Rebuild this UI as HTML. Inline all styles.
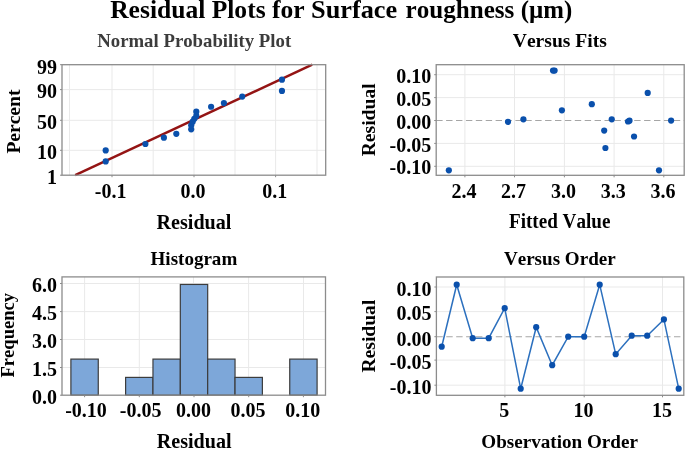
<!DOCTYPE html>
<html lang="en"><head><meta charset="utf-8"><title>Residual Plots for Surface roughness</title>
<style>html,body{margin:0;padding:0;background:#fff;overflow:hidden}svg{display:block}</style></head>
<body>
<svg width="685" height="449" viewBox="0 0 685 449" font-family='"Liberation Serif", serif' font-weight="bold" style="font-kerning:none">
<rect width="685" height="449" fill="#fff"/>
<text y="17.8" font-size="25.55" fill="#000"><tspan x="110.17">Residual Plots for </tspan><tspan x="311" textLength="86.2" lengthAdjust="spacingAndGlyphs">Surface</tspan><tspan> </tspan><tspan x="405.6" textLength="108.7" lengthAdjust="spacingAndGlyphs">roughness</tspan><tspan> </tspan><tspan x="520.7" textLength="51.5" lengthAdjust="spacingAndGlyphs">(µm)</tspan></text>
<rect x="62.0" y="64.7" width="263.7" height="110.49999999999999" fill="#fff" stroke="none"/>
<line x1="69.5" y1="64.7" x2="69.5" y2="175.2" stroke="#e9e9e9" stroke-width="1"/>
<line x1="112" y1="64.7" x2="112" y2="175.2" stroke="#e9e9e9" stroke-width="1"/>
<line x1="153.2" y1="64.7" x2="153.2" y2="175.2" stroke="#e9e9e9" stroke-width="1"/>
<line x1="194" y1="64.7" x2="194" y2="175.2" stroke="#e9e9e9" stroke-width="1"/>
<line x1="235" y1="64.7" x2="235" y2="175.2" stroke="#e9e9e9" stroke-width="1"/>
<line x1="275.6" y1="64.7" x2="275.6" y2="175.2" stroke="#e9e9e9" stroke-width="1"/>
<line x1="317" y1="64.7" x2="317" y2="175.2" stroke="#e9e9e9" stroke-width="1"/>
<line x1="62.0" y1="89.6" x2="325.7" y2="89.6" stroke="#e9e9e9" stroke-width="1"/>
<line x1="62.0" y1="120.3" x2="325.7" y2="120.3" stroke="#e9e9e9" stroke-width="1"/>
<line x1="62.0" y1="150.3" x2="325.7" y2="150.3" stroke="#e9e9e9" stroke-width="1"/>
<line x1="75.2" y1="175.2" x2="312.2" y2="64.7" stroke="#941414" stroke-width="2.45"/>
<circle cx="105.7" cy="161.4" r="3.1" fill="#0a50ac"/>
<circle cx="105.7" cy="150.4" r="3.1" fill="#0a50ac"/>
<circle cx="145.4" cy="144.0" r="3.1" fill="#0a50ac"/>
<circle cx="163.9" cy="137.7" r="3.1" fill="#0a50ac"/>
<circle cx="176.3" cy="133.8" r="3.1" fill="#0a50ac"/>
<circle cx="191.2" cy="129.3" r="3.1" fill="#0a50ac"/>
<circle cx="191.2" cy="125.3" r="3.1" fill="#0a50ac"/>
<circle cx="192.7" cy="121.7" r="3.1" fill="#0a50ac"/>
<circle cx="194.3" cy="118.8" r="3.1" fill="#0a50ac"/>
<circle cx="196.3" cy="115.9" r="3.1" fill="#0a50ac"/>
<circle cx="196.3" cy="111.7" r="3.1" fill="#0a50ac"/>
<circle cx="211.1" cy="106.75" r="3.1" fill="#0a50ac"/>
<circle cx="223.9" cy="103.1" r="3.1" fill="#0a50ac"/>
<circle cx="242.25" cy="96.6" r="3.1" fill="#0a50ac"/>
<circle cx="281.95" cy="90.9" r="3.1" fill="#0a50ac"/>
<circle cx="281.95" cy="79.7" r="3.1" fill="#0a50ac"/>
<rect x="62.0" y="64.7" width="263.7" height="110.49999999999999" fill="none" stroke="#8c8c8c" stroke-width="1.3"/>
<line x1="60.0" y1="64.7" x2="62.0" y2="64.7" stroke="#8c8c8c" stroke-width="1"/>
<text x="57.0" y="73.5" font-size="20" text-anchor="end" fill="#000">99</text>
<line x1="60.0" y1="89.6" x2="62.0" y2="89.6" stroke="#8c8c8c" stroke-width="1"/>
<text x="57.0" y="98.39999999999999" font-size="20" text-anchor="end" fill="#000">90</text>
<line x1="60.0" y1="120.3" x2="62.0" y2="120.3" stroke="#8c8c8c" stroke-width="1"/>
<text x="57.0" y="129.1" font-size="20" text-anchor="end" fill="#000">50</text>
<line x1="60.0" y1="150.3" x2="62.0" y2="150.3" stroke="#8c8c8c" stroke-width="1"/>
<text x="57.0" y="159.10000000000002" font-size="20" text-anchor="end" fill="#000">10</text>
<line x1="60.0" y1="175.2" x2="62.0" y2="175.2" stroke="#8c8c8c" stroke-width="1"/>
<text x="57.0" y="184.0" font-size="20" text-anchor="end" fill="#000">1</text>
<line x1="112" y1="175.2" x2="112" y2="177.2" stroke="#8c8c8c" stroke-width="1"/>
<text x="110.7" y="197.89999999999998" font-size="20" text-anchor="middle" fill="#000">-0.1</text>
<line x1="194" y1="175.2" x2="194" y2="177.2" stroke="#8c8c8c" stroke-width="1"/>
<text x="193.1" y="197.89999999999998" font-size="20" text-anchor="middle" fill="#000">0.0</text>
<line x1="275.6" y1="175.2" x2="275.6" y2="177.2" stroke="#8c8c8c" stroke-width="1"/>
<text x="274.70000000000005" y="197.89999999999998" font-size="20" text-anchor="middle" fill="#000">0.1</text>
<text x="194.2" y="47" font-size="19" text-anchor="middle" fill="#3c3c3c" textLength="194" lengthAdjust="spacingAndGlyphs">Normal Probability Plot</text>
<text x="194" y="228.7" font-size="20.1" text-anchor="middle" fill="#000">Residual</text>
<text x="20.3" y="121.6" font-size="19.7" text-anchor="middle" fill="#000" transform="rotate(-90 20.3 121.6)" textLength="64" lengthAdjust="spacingAndGlyphs">Percent</text>
<rect x="436.2" y="64.7" width="248.00000000000006" height="110.60000000000001" fill="#fff" stroke="none"/>
<line x1="464.9" y1="64.7" x2="464.9" y2="175.3" stroke="#e9e9e9" stroke-width="1"/>
<line x1="514.5" y1="64.7" x2="514.5" y2="175.3" stroke="#e9e9e9" stroke-width="1"/>
<line x1="564.4" y1="64.7" x2="564.4" y2="175.3" stroke="#e9e9e9" stroke-width="1"/>
<line x1="614.1" y1="64.7" x2="614.1" y2="175.3" stroke="#e9e9e9" stroke-width="1"/>
<line x1="663.8" y1="64.7" x2="663.8" y2="175.3" stroke="#e9e9e9" stroke-width="1"/>
<line x1="436.2" y1="74.69999999999999" x2="684.2" y2="74.69999999999999" stroke="#e9e9e9" stroke-width="1"/>
<line x1="436.2" y1="97.6" x2="684.2" y2="97.6" stroke="#e9e9e9" stroke-width="1"/>
<line x1="436.2" y1="143.4" x2="684.2" y2="143.4" stroke="#e9e9e9" stroke-width="1"/>
<line x1="436.2" y1="166.3" x2="684.2" y2="166.3" stroke="#e9e9e9" stroke-width="1"/>
<line x1="436.2" y1="120.5" x2="684.2" y2="120.5" stroke="#a6a6a6" stroke-width="1.1" stroke-dasharray="6.4 3.5"/>
<circle cx="448.85" cy="170.3" r="3.1" fill="#0a50ac"/>
<circle cx="508.0" cy="121.8" r="3.1" fill="#0a50ac"/>
<circle cx="523.4" cy="119.3" r="3.1" fill="#0a50ac"/>
<circle cx="553.0" cy="70.6" r="3.1" fill="#0a50ac"/>
<circle cx="554.6" cy="70.6" r="3.1" fill="#0a50ac"/>
<circle cx="561.9" cy="110.3" r="3.1" fill="#0a50ac"/>
<circle cx="591.8" cy="104.2" r="3.1" fill="#0a50ac"/>
<circle cx="604.2" cy="130.6" r="3.1" fill="#0a50ac"/>
<circle cx="605.4" cy="148.0" r="3.1" fill="#0a50ac"/>
<circle cx="611.75" cy="119.3" r="3.1" fill="#0a50ac"/>
<circle cx="628.0" cy="121.5" r="3.1" fill="#0a50ac"/>
<circle cx="629.5" cy="120.7" r="3.1" fill="#0a50ac"/>
<circle cx="634.05" cy="136.5" r="3.1" fill="#0a50ac"/>
<circle cx="647.7" cy="92.9" r="3.1" fill="#0a50ac"/>
<circle cx="659.0" cy="170.3" r="3.1" fill="#0a50ac"/>
<circle cx="671.1" cy="120.6" r="3.1" fill="#0a50ac"/>
<rect x="436.2" y="64.7" width="248.00000000000006" height="110.60000000000001" fill="none" stroke="#8c8c8c" stroke-width="1.3"/>
<line x1="434.2" y1="74.69999999999999" x2="436.2" y2="74.69999999999999" stroke="#8c8c8c" stroke-width="1"/>
<text x="431.2" y="82.79999999999998" font-size="20" text-anchor="end" fill="#000">0.10</text>
<line x1="434.2" y1="97.6" x2="436.2" y2="97.6" stroke="#8c8c8c" stroke-width="1"/>
<text x="431.2" y="105.69999999999999" font-size="20" text-anchor="end" fill="#000">0.05</text>
<line x1="434.2" y1="120.5" x2="436.2" y2="120.5" stroke="#8c8c8c" stroke-width="1"/>
<text x="431.2" y="128.6" font-size="20" text-anchor="end" fill="#000">0.00</text>
<line x1="434.2" y1="143.4" x2="436.2" y2="143.4" stroke="#8c8c8c" stroke-width="1"/>
<text x="431.2" y="151.5" font-size="20" text-anchor="end" fill="#000">-0.05</text>
<line x1="434.2" y1="166.3" x2="436.2" y2="166.3" stroke="#8c8c8c" stroke-width="1"/>
<text x="431.2" y="174.4" font-size="20" text-anchor="end" fill="#000">-0.10</text>
<line x1="464.9" y1="175.3" x2="464.9" y2="177.3" stroke="#8c8c8c" stroke-width="1"/>
<text x="464.0" y="198.0" font-size="20" text-anchor="middle" fill="#000">2.4</text>
<line x1="514.5" y1="175.3" x2="514.5" y2="177.3" stroke="#8c8c8c" stroke-width="1"/>
<text x="513.6" y="198.0" font-size="20" text-anchor="middle" fill="#000">2.7</text>
<line x1="564.4" y1="175.3" x2="564.4" y2="177.3" stroke="#8c8c8c" stroke-width="1"/>
<text x="563.5" y="198.0" font-size="20" text-anchor="middle" fill="#000">3.0</text>
<line x1="614.1" y1="175.3" x2="614.1" y2="177.3" stroke="#8c8c8c" stroke-width="1"/>
<text x="613.2" y="198.0" font-size="20" text-anchor="middle" fill="#000">3.3</text>
<line x1="663.8" y1="175.3" x2="663.8" y2="177.3" stroke="#8c8c8c" stroke-width="1"/>
<text x="662.9" y="198.0" font-size="20" text-anchor="middle" fill="#000">3.6</text>
<text x="559.8" y="46.5" font-size="19.4" text-anchor="middle" fill="#000" textLength="94" lengthAdjust="spacingAndGlyphs">Versus Fits</text>
<text x="559.7" y="228.4" font-size="20.1" text-anchor="middle" fill="#000" textLength="101.4" lengthAdjust="spacingAndGlyphs">Fitted Value</text>
<text x="375.1" y="119.8" font-size="19.6" text-anchor="middle" fill="#000" transform="rotate(-90 375.1 119.8)">Residual</text>
<rect x="62.0" y="276.9" width="263.5" height="118.30000000000001" fill="#fff" stroke="none"/>
<line x1="84.6" y1="276.9" x2="84.6" y2="395.2" stroke="#e9e9e9" stroke-width="1"/>
<line x1="139.3" y1="276.9" x2="139.3" y2="395.2" stroke="#e9e9e9" stroke-width="1"/>
<line x1="193.5" y1="276.9" x2="193.5" y2="395.2" stroke="#e9e9e9" stroke-width="1"/>
<line x1="248.6" y1="276.9" x2="248.6" y2="395.2" stroke="#e9e9e9" stroke-width="1"/>
<line x1="303.5" y1="276.9" x2="303.5" y2="395.2" stroke="#e9e9e9" stroke-width="1"/>
<line x1="62.0" y1="367.5" x2="325.5" y2="367.5" stroke="#e9e9e9" stroke-width="1"/>
<line x1="62.0" y1="339.5" x2="325.5" y2="339.5" stroke="#e9e9e9" stroke-width="1"/>
<line x1="62.0" y1="311.6" x2="325.5" y2="311.6" stroke="#e9e9e9" stroke-width="1"/>
<line x1="62.0" y1="283.5" x2="325.5" y2="283.5" stroke="#e9e9e9" stroke-width="1"/>
<rect x="70.90" y="359.10" width="27.36" height="36.10" fill="#7da7d9" stroke="#3c3c3c" stroke-width="1.2"/>
<rect x="125.61" y="377.40" width="27.36" height="17.80" fill="#7da7d9" stroke="#3c3c3c" stroke-width="1.2"/>
<rect x="152.97" y="359.10" width="27.35" height="36.10" fill="#7da7d9" stroke="#3c3c3c" stroke-width="1.2"/>
<rect x="180.32" y="284.45" width="27.36" height="110.75" fill="#7da7d9" stroke="#3c3c3c" stroke-width="1.2"/>
<rect x="207.68" y="359.10" width="27.35" height="36.10" fill="#7da7d9" stroke="#3c3c3c" stroke-width="1.2"/>
<rect x="235.03" y="377.40" width="27.35" height="17.80" fill="#7da7d9" stroke="#3c3c3c" stroke-width="1.2"/>
<rect x="289.74" y="359.10" width="27.35" height="36.10" fill="#7da7d9" stroke="#3c3c3c" stroke-width="1.2"/>
<rect x="62.0" y="276.9" width="263.5" height="118.30000000000001" fill="none" stroke="#8c8c8c" stroke-width="1.3"/>
<line x1="60.0" y1="395.2" x2="62.0" y2="395.2" stroke="#8c8c8c" stroke-width="1"/>
<text x="57.0" y="404.0" font-size="20" text-anchor="end" fill="#000">0.0</text>
<line x1="60.0" y1="367.5" x2="62.0" y2="367.5" stroke="#8c8c8c" stroke-width="1"/>
<text x="57.0" y="376.3" font-size="20" text-anchor="end" fill="#000">1.5</text>
<line x1="60.0" y1="339.5" x2="62.0" y2="339.5" stroke="#8c8c8c" stroke-width="1"/>
<text x="57.0" y="348.3" font-size="20" text-anchor="end" fill="#000">3.0</text>
<line x1="60.0" y1="311.6" x2="62.0" y2="311.6" stroke="#8c8c8c" stroke-width="1"/>
<text x="57.0" y="320.40000000000003" font-size="20" text-anchor="end" fill="#000">4.5</text>
<line x1="60.0" y1="283.5" x2="62.0" y2="283.5" stroke="#8c8c8c" stroke-width="1"/>
<text x="57.0" y="292.3" font-size="20" text-anchor="end" fill="#000">6.0</text>
<line x1="84.57999999999998" y1="395.2" x2="84.57999999999998" y2="397.2" stroke="#8c8c8c" stroke-width="1"/>
<text x="85.97999999999999" y="417.2" font-size="20" text-anchor="middle" fill="#000">-0.10</text>
<line x1="139.29" y1="395.2" x2="139.29" y2="397.2" stroke="#8c8c8c" stroke-width="1"/>
<text x="140.69" y="417.2" font-size="20" text-anchor="middle" fill="#000">-0.05</text>
<line x1="194.0" y1="395.2" x2="194.0" y2="397.2" stroke="#8c8c8c" stroke-width="1"/>
<text x="193.4" y="417.2" font-size="20" text-anchor="middle" fill="#000">0.00</text>
<line x1="248.71" y1="395.2" x2="248.71" y2="397.2" stroke="#8c8c8c" stroke-width="1"/>
<text x="248.11" y="417.2" font-size="20" text-anchor="middle" fill="#000">0.05</text>
<line x1="303.42" y1="395.2" x2="303.42" y2="397.2" stroke="#8c8c8c" stroke-width="1"/>
<text x="302.82" y="417.2" font-size="20" text-anchor="middle" fill="#000">0.10</text>
<text x="193.9" y="264.8" font-size="19" text-anchor="middle" fill="#000" textLength="86.7" lengthAdjust="spacingAndGlyphs">Histogram</text>
<text x="194.2" y="447.8" font-size="20.1" text-anchor="middle" fill="#000">Residual</text>
<text x="14.4" y="335.2" font-size="18.6" text-anchor="middle" fill="#000" transform="rotate(-90 14.4 335.2)">Frequency</text>
<rect x="436.4" y="277.0" width="247.39999999999998" height="118.30000000000001" fill="#fff" stroke="none"/>
<line x1="504.9" y1="277.0" x2="504.9" y2="395.3" stroke="#e9e9e9" stroke-width="1"/>
<line x1="584.2" y1="277.0" x2="584.2" y2="395.3" stroke="#e9e9e9" stroke-width="1"/>
<line x1="662.5" y1="277.0" x2="662.5" y2="395.3" stroke="#e9e9e9" stroke-width="1"/>
<line x1="436.4" y1="287.0" x2="683.8" y2="287.0" stroke="#e9e9e9" stroke-width="1"/>
<line x1="436.4" y1="311.6" x2="683.8" y2="311.6" stroke="#e9e9e9" stroke-width="1"/>
<line x1="436.4" y1="360.1" x2="683.8" y2="360.1" stroke="#e9e9e9" stroke-width="1"/>
<line x1="436.4" y1="385.2" x2="683.8" y2="385.2" stroke="#e9e9e9" stroke-width="1"/>
<line x1="436.4" y1="336.7" x2="683.8" y2="336.7" stroke="#a6a6a6" stroke-width="1.1" stroke-dasharray="6.4 3.5"/>
<polyline fill="none" stroke="#2c70be" stroke-width="1.5" points="441.7,346.7 456.7,284.7 472.7,338.2 488.7,338.2 504.7,308.2 520.7,388.7 536.2,327.2 552.2,365.2 568.2,336.7 584.2,336.7 599.7,284.7 615.7,354.2 631.7,335.7 647.2,335.7 663.9000000000001,319.4 678.7,388.7"/>
<circle cx="441.7" cy="346.7" r="3.1" fill="#0a50ac"/>
<circle cx="456.7" cy="284.7" r="3.1" fill="#0a50ac"/>
<circle cx="472.7" cy="338.2" r="3.1" fill="#0a50ac"/>
<circle cx="488.7" cy="338.2" r="3.1" fill="#0a50ac"/>
<circle cx="504.7" cy="308.2" r="3.1" fill="#0a50ac"/>
<circle cx="520.7" cy="388.7" r="3.1" fill="#0a50ac"/>
<circle cx="536.2" cy="327.2" r="3.1" fill="#0a50ac"/>
<circle cx="552.2" cy="365.2" r="3.1" fill="#0a50ac"/>
<circle cx="568.2" cy="336.7" r="3.1" fill="#0a50ac"/>
<circle cx="584.2" cy="336.7" r="3.1" fill="#0a50ac"/>
<circle cx="599.7" cy="284.7" r="3.1" fill="#0a50ac"/>
<circle cx="615.7" cy="354.2" r="3.1" fill="#0a50ac"/>
<circle cx="631.7" cy="335.7" r="3.1" fill="#0a50ac"/>
<circle cx="647.2" cy="335.7" r="3.1" fill="#0a50ac"/>
<circle cx="663.9000000000001" cy="319.4" r="3.1" fill="#0a50ac"/>
<circle cx="678.7" cy="388.7" r="3.1" fill="#0a50ac"/>
<rect x="436.4" y="277.0" width="247.39999999999998" height="118.30000000000001" fill="none" stroke="#8c8c8c" stroke-width="1.3"/>
<line x1="434.4" y1="287.0" x2="436.4" y2="287.0" stroke="#8c8c8c" stroke-width="1"/>
<text x="431.4" y="295.8" font-size="20" text-anchor="end" fill="#000">0.10</text>
<line x1="434.4" y1="311.6" x2="436.4" y2="311.6" stroke="#8c8c8c" stroke-width="1"/>
<text x="431.4" y="320.40000000000003" font-size="20" text-anchor="end" fill="#000">0.05</text>
<line x1="434.4" y1="336.7" x2="436.4" y2="336.7" stroke="#8c8c8c" stroke-width="1"/>
<text x="431.4" y="345.5" font-size="20" text-anchor="end" fill="#000">0.00</text>
<line x1="434.4" y1="360.1" x2="436.4" y2="360.1" stroke="#8c8c8c" stroke-width="1"/>
<text x="431.4" y="368.90000000000003" font-size="20" text-anchor="end" fill="#000">-0.05</text>
<line x1="434.4" y1="385.2" x2="436.4" y2="385.2" stroke="#8c8c8c" stroke-width="1"/>
<text x="431.4" y="394.0" font-size="20" text-anchor="end" fill="#000">-0.10</text>
<line x1="504.9" y1="395.3" x2="504.9" y2="397.3" stroke="#8c8c8c" stroke-width="1"/>
<line x1="584.2" y1="395.3" x2="584.2" y2="397.3" stroke="#8c8c8c" stroke-width="1"/>
<line x1="662.5" y1="395.3" x2="662.5" y2="397.3" stroke="#8c8c8c" stroke-width="1"/>
<text x="504.2" y="417.3" font-size="20" text-anchor="middle" fill="#000">5</text>
<text x="583.6" y="417.3" font-size="20" text-anchor="middle" fill="#000">10</text>
<text x="661.9" y="417.3" font-size="20" text-anchor="middle" fill="#000">15</text>
<text x="559.8" y="264.8" font-size="19" text-anchor="middle" fill="#000" textLength="111.8" lengthAdjust="spacingAndGlyphs">Versus Order</text>
<text x="559.6" y="447.8" font-size="18.9" text-anchor="middle" fill="#000" textLength="156.6" lengthAdjust="spacingAndGlyphs">Observation Order</text>
<text x="375.1" y="336.1" font-size="19.6" text-anchor="middle" fill="#000" transform="rotate(-90 375.1 336.1)">Residual</text>
</svg>
</body></html>
